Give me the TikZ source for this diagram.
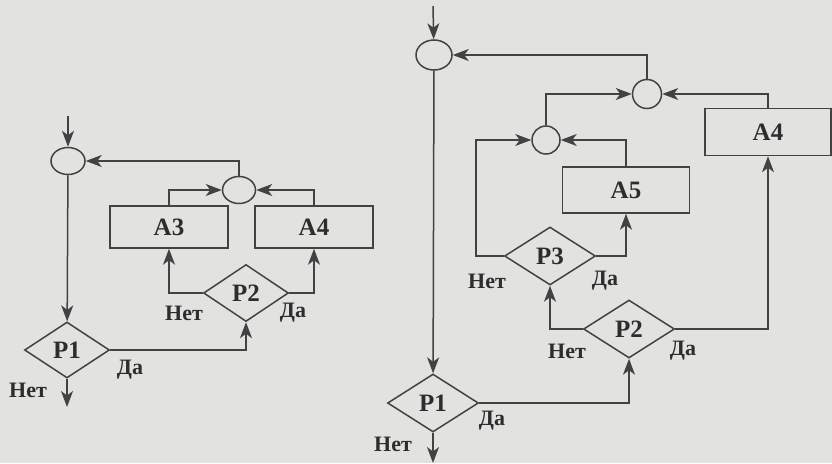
\documentclass[tikz,border=0pt]{standalone}
\usepackage{fontspec}
\setmainfont{Liberation Serif}
\usetikzlibrary{arrows.meta,shapes.geometric}
\definecolor{paperGray}{RGB}{226,226,224}
\definecolor{inkGray}{RGB}{66,66,66}
\definecolor{textGray}{RGB}{45,45,45}
\tikzset{
  blk/.style={draw=inkGray,line width=1.5pt,rectangle,inner sep=0pt,font=\bfseries\fontsize{25}{25}\selectfont,text=textGray},
  cond/.style={draw=inkGray,line width=1.5pt,diamond,inner sep=0pt,minimum width=91pt,minimum height=58pt,font=\bfseries\fontsize{25}{25}\selectfont,text=textGray},
  junc/.style={draw=inkGray,line width=1.5pt,ellipse,inner sep=0pt,minimum width=28pt,minimum height=28pt},
  arr/.style={draw=inkGray,line width=1.5pt,-{Stealth[length=16pt,width=12pt,inset=4.5pt]}},
  lbl/.style={font=\bfseries\fontsize{22}{22}\selectfont,text=textGray}
}
\begin{document}
\begin{tikzpicture}[x=1pt,y=-1pt]
  \fill[paperGray] (0,0) rectangle (832,463);
  \useasboundingbox (0,0) rectangle (832,463);
  % left scheme
  \coordinate (lin) at (68,116);
  \coordinate (lout) at (67,407);
  \node[junc,minimum width=34pt,minimum height=27pt] (lj1) at (68,161) {};
  \node[junc,minimum width=33pt,minimum height=27pt] (lj2) at (239,190) {};
  \node[cond,minimum width=85pt,minimum height=56pt] (lp1) at (67,350) {P1};
  \node[cond,minimum width=85pt,minimum height=57pt] (lp2) at (246,293) {P2};
  \node[blk,minimum width=118pt,minimum height=42pt] (la3) at (169,227) {A3};
  \node[blk,minimum width=118pt,minimum height=42pt] (la4) at (314,227) {A4};
  \draw[arr] (lin) -- (lj1);
  \draw[arr] (lj1) -- (lp1);
  \draw[arr] (lp1) -- (lout);
  \draw[arr] (lp1.east) -| (lp2.south);
  \draw[arr] (lp2.west) -| (la3.south);
  \draw[arr] (lp2.east) -| (la4.south);
  \draw[arr] (la3.north) |- (lj2.west);
  \draw[arr] (la4.north) |- (lj2.east);
  \draw[arr] (lj2.north) |- (lj1.east);
  % right scheme
  \coordinate (rin) at (433,6);
  \coordinate (rout) at (433,463);
  \node[junc,minimum width=36pt,minimum height=30pt] (rj1) at (434,55) {};
  \node[junc] (rj3) at (546,140) {};
  \node[junc,minimum width=29pt,minimum height=29pt] (rj4) at (647,94) {};
  \node[cond] (rp1) at (433,403) {P1};
  \node[cond] (rp2) at (629,329) {P2};
  \node[cond] (rp3) at (550,256) {P3};
  \node[blk,minimum width=127pt,minimum height=46pt] (ra5) at (626,190) {A5};
  \node[blk,minimum width=126pt,minimum height=47pt] (ra4) at (768,132) {A4};
  \draw[arr] (rin) -- (rj1);
  \draw[arr] (rj1) -- (rp1);
  \draw[arr] (rp1) -- (rout);
  \draw[arr] (rp1.east) -| (rp2.south);
  \draw[arr] (rp2.west) -| (rp3.south);
  \draw[arr] (rp2.east) -| (ra4.south);
  \draw[arr] (rp3.east) -| (ra5.south);
  \draw[arr] (rp3.west) -- ++(-28,0) |- (rj3.west);
  \draw[arr] (ra5.north) |- (rj3.east);
  \draw[arr] (rj3.north) |- (rj4.west);
  \draw[arr] (ra4.north) |- (rj4.east);
  \draw[arr] (rj4.north) |- (rj1.east);
  % branch labels
  \foreach \nm/\x/\y/\txt in {lyes1/130/370/Да,lno1/28/390/Нет,lno2/184/313/Нет,lyes2/293/313/Да,
      ryes1/492/421/Да,rno1/393/444/Нет,rno2/567/351/Нет,ryes2/683/351/Да,rno3/487/281/Нет,ryes3/605/281/Да}
    \node[lbl] (\nm) at (\x,\y) {\txt};
\end{tikzpicture}
\end{document}
